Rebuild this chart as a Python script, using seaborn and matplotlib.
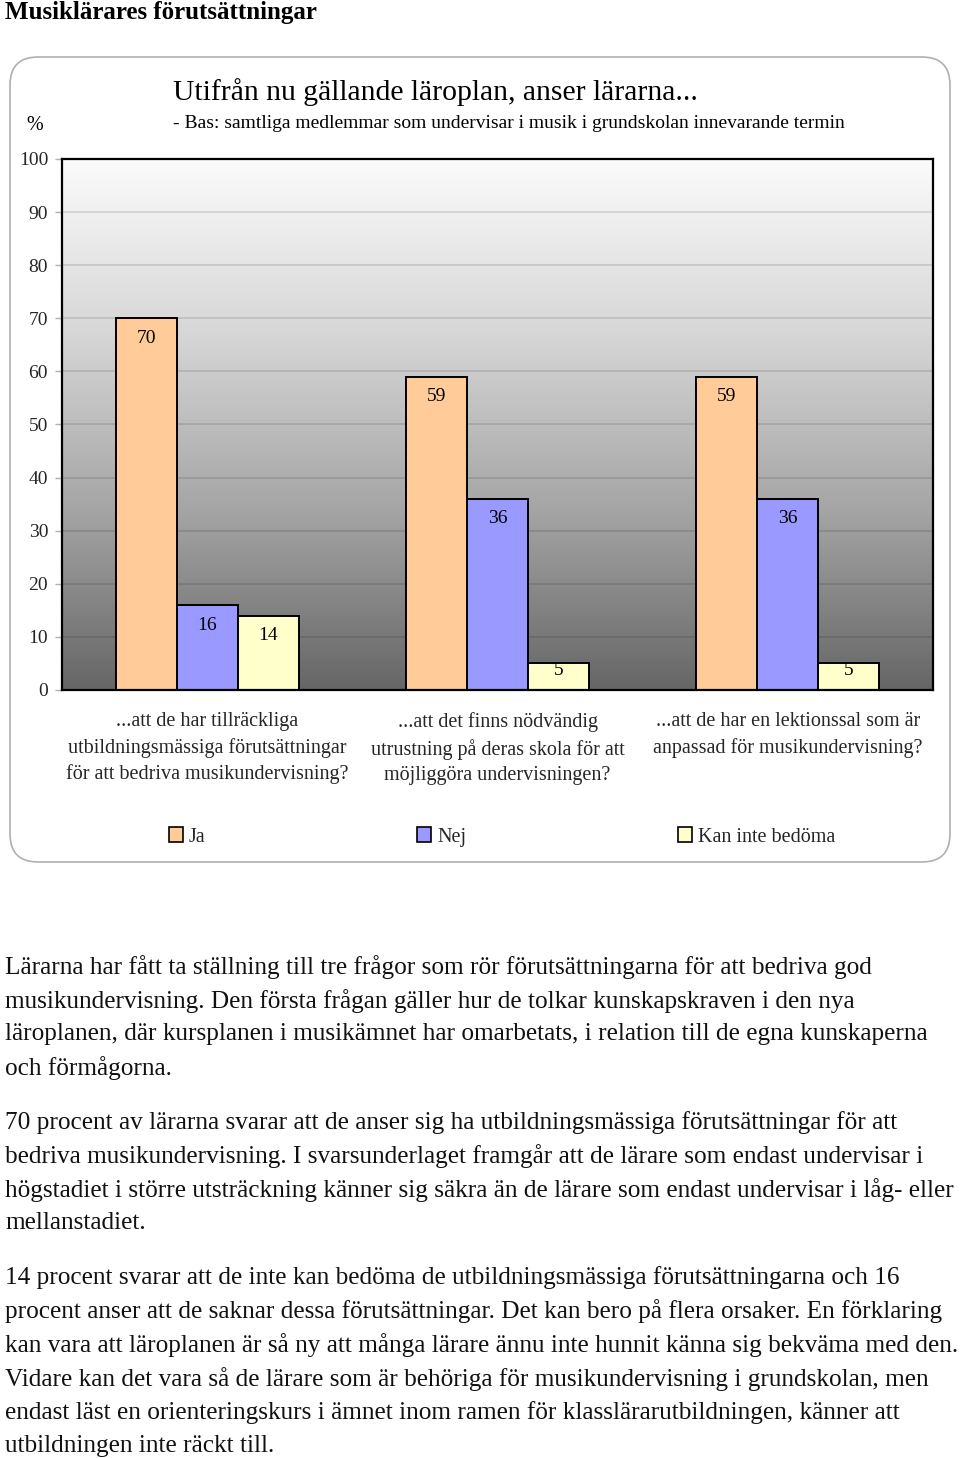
import numpy as np
import pandas as pd
import matplotlib
matplotlib.use("Agg")
import matplotlib.pyplot as plt
import seaborn as sns
from matplotlib.colors import LinearSegmentedColormap
from matplotlib.patches import FancyBboxPatch, Patch
from matplotlib.transforms import IdentityTransform

# ---------------- data ----------------
categories = [
    "...att de har tillräckliga\nutbildningsmässiga förutsättningar\nför att bedriva musikundervisning?",
    "...att det finns nödvändig\nutrustning på deras skola för att\nmöjliggöra undervisningen?",
    "...att de har en lektionssal som är\nanpassad för musikundervisning?",
]
responses = ["Ja", "Nej", "Kan inte bedöma"]
ja_values = [70, 59, 59]
nej_values = [16, 36, 36]
kan_values = [14, 5, 5]
yticks = [0, 10, 20, 30, 40, 50, 60, 70, 80, 90, 100]

page_title = "Musiklärares förutsättningar"
chart_title = "Utifrån nu gällande läroplan, anser lärarna..."
chart_subtitle = "- Bas: samtliga medlemmar som undervisar i musik i grundskolan innevarande termin"

paragraphs = [
    ["Lärarna har fått ta ställning till tre frågor som rör förutsättningarna för att bedriva god",
     "musikundervisning. Den första frågan gäller hur de tolkar kunskapskraven i den nya",
     "läroplanen, där kursplanen i musikämnet har omarbetats, i relation till de egna kunskaperna",
     "och förmågorna."],
    ["70 procent av lärarna svarar att de anser sig ha utbildningsmässiga förutsättningar för att",
     "bedriva musikundervisning. I svarsunderlaget framgår att de lärare som endast undervisar i",
     "högstadiet i större utsträckning känner sig säkra än de lärare som endast undervisar i låg- eller",
     "mellanstadiet."],
    ["14 procent svarar att de inte kan bedöma de utbildningsmässiga förutsättningarna och 16",
     "procent anser att de saknar dessa förutsättningar. Det kan bero på flera orsaker. En förklaring",
     "kan vara att läroplanen är så ny att många lärare ännu inte hunnit känna sig bekväma med den.",
     "Vidare kan det vara så de lärare som är behöriga för musikundervisning i grundskolan, men",
     "endast läst en orienteringskurs i ämnet inom ramen för klasslärarutbildningen, känner att",
     "utbildningen inte räckt till."],
]

colors = ["#FFCC99", "#9999FF", "#FFFFCC"]

df = pd.DataFrame({
    "cat": np.repeat(categories, 3),
    "resp": responses * 3,
    "value": [v for trio in zip(ja_values, nej_values, kan_values) for v in trio],
})

# ---------------- figure ----------------
sns.set_theme(style="white")
plt.rcParams["font.family"] = ["Liberation Serif", "DejaVu Serif"]

W, H = 960, 1458
fig = plt.figure(figsize=(W / 100, H / 100), dpi=100)
fig.patch.set_facecolor("white")

# rounded frame around the chart
frame = FancyBboxPatch((10, H - 862), 940, 805, boxstyle="round,pad=0,rounding_size=28",
                       transform=IdentityTransform(), facecolor="none",
                       edgecolor="#b0b0b0", linewidth=1.2, zorder=-5)
fig.patches.append(frame)

ax = fig.add_axes([62 / W, 1 - 690 / H, (933 - 62) / W, (690 - 159) / H])
ax.set_zorder(2)

# gradient background
cmap = LinearSegmentedColormap.from_list("bg", ["#fbfbfb", "#d6d6d6", "#a4a4a4", "#666666"])
ax.imshow(np.linspace(0, 1, 256).reshape(-1, 1), extent=[-0.5, 2.5, 0, 100],
          aspect="auto", cmap=cmap, origin="upper", zorder=0, interpolation="bilinear")

sns.barplot(data=df, x="cat", y="value", hue="resp", hue_order=responses,
            palette=colors, saturation=1, width=0.63, gap=0,
            edgecolor="black", linewidth=1.4, legend=False, ax=ax, zorder=3)

ax.set_xlim(-0.5, 2.5)
ax.set_ylim(0, 100)
ax.set_yticks(yticks)
ax.set_yticklabels([str(t) for t in yticks], fontsize=14)
for t in yticks[1:-1]:
    ax.axhline(t, color="black", alpha=0.13, linewidth=1.2, zorder=1)

ax.set_xticks(range(len(categories)))
ax.set_xticklabels(categories, fontsize=14.5, linespacing=1.45)
ax.set_xticks([-0.5, 0.5, 1.5, 2.5], minor=True)
ax.tick_params(axis="x", which="major", length=0, pad=16)
ax.tick_params(axis="x", which="minor", length=5, color="#b0b0b0", width=1, direction="out")
ax.tick_params(axis="y", length=5, color="#b0b0b0", width=1, direction="out", pad=5, left=True)
ax.set_xlabel("")
ax.set_ylabel("")
for s in ax.spines.values():
    s.set_color("black")
    s.set_linewidth(1.6)
    s.set_zorder(5)

# value labels inside bar tops
bars = [p for p in ax.patches if p.get_height() > 0]
for p in bars:
    v = p.get_height()
    off = 20 if v >= 10 else 7
    ax.annotate(f"{v:.0f}", xy=(p.get_x() + p.get_width() / 2, v), xytext=(0, -off),
                textcoords="offset pixels", ha="center", va="center",
                fontsize=14, color="black", zorder=6)

# legend
handles = [Patch(facecolor=c, edgecolor="black", linewidth=1.2) for c in colors]
fig.legend(handles, responses, loc="center", bbox_to_anchor=(502 / W, 1 - 837 / H),
           ncol=3, frameon=False, fontsize=14.5, handlelength=0.7, handleheight=0.7,
           handletextpad=0.3, columnspacing=10.5)

# chart titles
fig.text(173 / W, 1 - 92 / H, chart_title, fontsize=21.3, ha="left", va="center", color="black")
fig.text(173 / W, 1 - 124 / H, chart_subtitle, fontsize=14, ha="left", va="center", color="black")
fig.text(35 / W, 1 - 125 / H, "%", fontsize=14.5, ha="center", va="center", color="black")

# page title
fig.text(5 / W, 1 - 12 / H, page_title, fontsize=18, fontweight="bold", ha="left",
         va="center", color="black")

# body text
y = 967
for para in paragraphs:
    for line in para:
        fig.text(5 / W, 1 - y / H, line, fontsize=18.2, ha="left", va="center", color="#111111")
        y += 33.6
    y += 21

fig.savefig("out.png", dpi=100, facecolor="white")
